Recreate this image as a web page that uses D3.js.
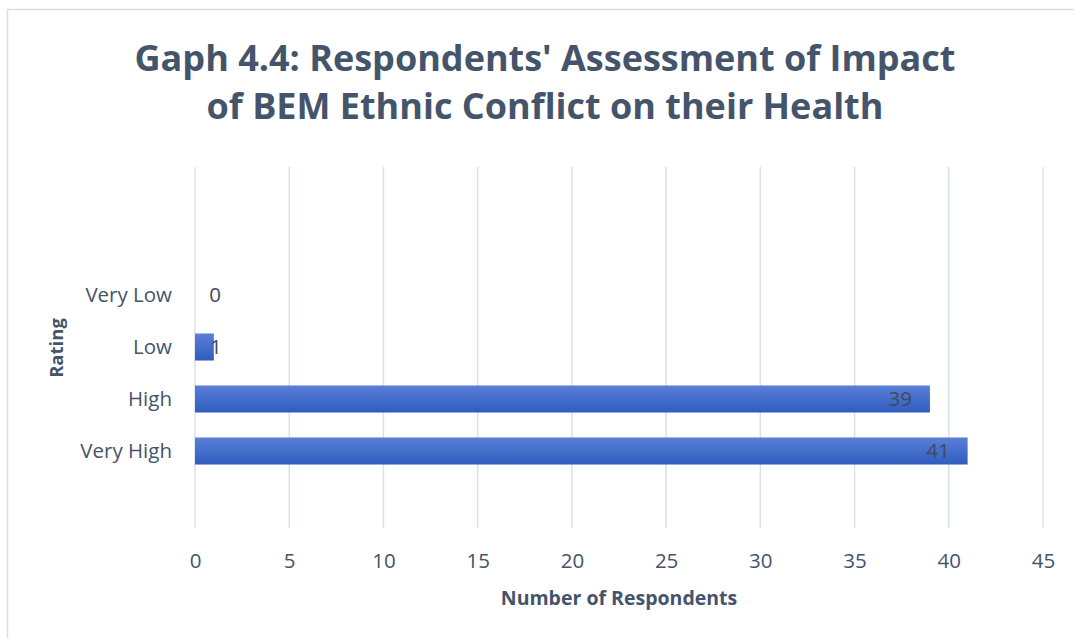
<!DOCTYPE html>
<html>
<head>
<meta charset="utf-8">
<script src="https://cdn.jsdelivr.net/npm/d3@7"></script>
<style>
  body { margin: 0; background: #fff; }
  svg { display: block; font-family: "Open Sans", sans-serif; }
</style>
</head>
<body>
<svg id="chart" width="1074" height="638"></svg>
<script>
// Ratings and respondent counts
const categories = ["Very Low", "Low", "High", "Very High"];
const counts = [0, 1, 39, 41];
const xTicks = [0, 5, 10, 15, 20, 25, 30, 35, 40, 45];
const titleLines = ["Gaph 4.4: Respondents' Assessment of Impact", "of BEM Ethnic Conflict on their Health"];

const svg = d3.select("#chart");
const textColor = "#44546A";

// chart frame
svg.append("rect")
  .attr("x", 7.5).attr("y", 9.5)
  .attr("width", 1080).attr("height", 640)
  .attr("fill", "#fff").attr("stroke", "#D9DEE5").attr("stroke-width", 1.5);

const plot = { left: 195, right: 1043, top: 167, bottom: 528 };

const x = d3.scaleLinear().domain([0, 45]).range([plot.left, plot.right]);
const y = d3.scaleBand().domain(categories).range([269, 477]).paddingInner(0.48).paddingOuter(0.24);

// gridlines
svg.append("g").selectAll("line").data(xTicks).join("line")
  .attr("x1", d => x(d)).attr("x2", d => x(d))
  .attr("y1", plot.top).attr("y2", plot.bottom)
  .attr("stroke", "#DCE1E8").attr("stroke-width", 1.5);

// bar gradient
const grad = svg.append("defs").append("linearGradient")
  .attr("id", "barGrad").attr("x1", 0).attr("y1", 0).attr("x2", 0).attr("y2", 1);
grad.append("stop").attr("offset", "0%").attr("stop-color", "#5A7FD8");
grad.append("stop").attr("offset", "100%").attr("stop-color", "#2F5DBE");

const data = categories.map((c, i) => ({ c, v: counts[i] }));

svg.append("g").selectAll("rect").data(data).join("rect")
  .attr("x", x(0))
  .attr("y", d => y(d.c))
  .attr("width", d => x(d.v) - x(0))
  .attr("height", y.bandwidth())
  .attr("fill", "url(#barGrad)");

// value labels at the inside end of each bar
svg.append("g").selectAll("text").data(data).join("text")
  .attr("x", d => d.v >= 10 ? x(d.v) - 18 : Math.max(x(d.v) + 2, x(0) + 20))
  .attr("y", d => y(d.c) + y.bandwidth() / 2)
  .attr("dy", "0.36em")
  .attr("text-anchor", d => d.v >= 10 ? "end" : "middle")
  .attr("font-size", 20.5)
  .attr("fill", "#404A5A")
  .text(d => d.v);

// x axis tick labels
const xAxis = d3.axisBottom(x).tickValues(xTicks).tickSize(0).tickPadding(0);
const gx = svg.append("g").attr("transform", `translate(0,${plot.bottom + 33})`).call(xAxis);
gx.select(".domain").remove();
gx.selectAll("text").attr("font-size", 20.5).attr("fill", textColor)
  .attr("font-family", "Open Sans, sans-serif").attr("dy", "0.36em");

// y axis category labels
const yAxis = d3.axisLeft(y).tickSize(0).tickPadding(0);
const gy = svg.append("g").attr("transform", `translate(${plot.left - 23},0)`).call(yAxis);
gy.select(".domain").remove();
gy.selectAll("text").attr("font-size", 20.5).attr("fill", textColor)
  .attr("font-family", "Open Sans, sans-serif");

// title
svg.append("g").selectAll("text").data(titleLines).join("text")
  .attr("x", 545).attr("y", (d, i) => 71 + i * 48)
  .attr("text-anchor", "middle")
  .attr("font-size", 36).attr("font-weight", "bold")
  .attr("fill", textColor)
  .text(d => d);

// axis titles
svg.append("text")
  .attr("x", 619).attr("y", 605)
  .attr("text-anchor", "middle")
  .attr("font-size", 19.5).attr("font-weight", "bold")
  .attr("fill", textColor)
  .text("Number of Respondents");

svg.append("text")
  .attr("transform", "translate(63,348) rotate(-90)")
  .attr("text-anchor", "middle")
  .attr("font-size", 18.5).attr("font-weight", "bold")
  .attr("fill", textColor)
  .text("Rating");
</script>
</body>
</html>
